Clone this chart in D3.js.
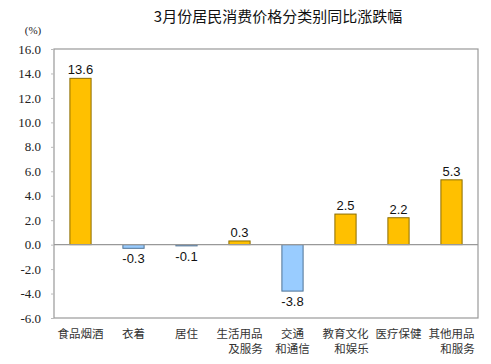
<!DOCTYPE html>
<html><head><meta charset="utf-8">
<script src="https://cdn.jsdelivr.net/npm/d3@7"></script>
<style>body{margin:0;background:#fff}</style>
</head><body>
<svg id="c" width="491" height="364"></svg>
<script>
const categories = [["食品烟酒"],["衣着"],["居住"],["生活用品","及服务"],["交通","和通信"],["教育文化","和娱乐"],["医疗保健"],["其他用品","和服务"]];
const values = [13.6, -0.3, -0.1, 0.3, -3.8, 2.5, 2.2, 5.3];
const yTicks = [-6, -4, -2, 0, 2, 4, 6, 8, 10, 12, 14, 16];
const title = "3月份居民消费价格分类别同比涨跌幅";
const unit = "(%)";

const svg = d3.select("#c");
const L = 54, R = 478, T = 49, B = 318;
const x = d3.scaleBand().domain(d3.range(values.length)).range([L, R]).paddingInner(0.6).paddingOuter(0.3);
const y = d3.scaleLinear().domain([-6, 16]).range([B, T]);
const fmt = d => d.toFixed(1);

svg.append("text").attr("x", 278).attr("y", 22).attr("text-anchor", "middle")
  .style("font-family", "'Noto Sans CJK SC'").style("font-size", "15px").attr("fill", "#111").text(title);
svg.append("text").attr("x", 33).attr("y", 34).attr("text-anchor", "middle")
  .style("font-family", "'Liberation Serif'").style("font-size", "11px").attr("fill", "#222").text(unit);

svg.append("rect").attr("x", L).attr("y", T).attr("width", R - L).attr("height", B - T)
  .attr("fill", "none").attr("stroke", "#999").attr("stroke-width", 1.2);

const yAxis = svg.append("g").attr("transform", `translate(${L},0)`)
  .call(d3.axisLeft(y).tickValues(yTicks).tickFormat(fmt).tickSize(3).tickPadding(10));
yAxis.select(".domain").remove();
yAxis.selectAll("line").attr("stroke", "#bbb");
yAxis.selectAll("text").style("font-family", "'Liberation Serif'").style("font-size", "13px").attr("fill", "#222");

svg.append("g").selectAll("rect").data(values).join("rect")
  .attr("x", (d, i) => x(i)).attr("width", x.bandwidth())
  .attr("y", d => y(Math.max(0, d))).attr("height", d => Math.abs(y(d) - y(0)))
  .attr("fill", d => d >= 0 ? "#FFC000" : "#99CCFF")
  .attr("stroke", d => d >= 0 ? "#8C6D00" : "#4F7396").attr("stroke-width", 1);

svg.append("line").attr("x1", L).attr("x2", R).attr("y1", y(0)).attr("y2", y(0))
  .attr("stroke", "#999").attr("stroke-width", 1.2);

svg.append("g").selectAll("text").data(values).join("text")
  .attr("x", (d, i) => x(i) + x.bandwidth() / 2)
  .attr("y", d => d >= 0 ? y(d) - 4 : y(d) + 15)
  .attr("text-anchor", "middle").style("font-family", "'Liberation Sans'").style("font-size", "13px").attr("fill", "#111")
  .text(fmt);

const lines = [];
categories.forEach((c, i) => c.forEach((t, j) => lines.push({i, j, t, off: j && c[0].length > 2 ? 6 : 0})));
svg.append("g").selectAll("text").data(lines).join("text")
  .attr("x", d => x(d.i) + x.bandwidth() / 2 + d.off)
  .attr("y", d => 338 + d.j * 15).attr("text-anchor", "middle")
  .style("font-family", "'Noto Sans CJK SC'").style("font-size", "11.5px").attr("fill", "#333")
  .text(d => d.t);
</script>
</body></html>
